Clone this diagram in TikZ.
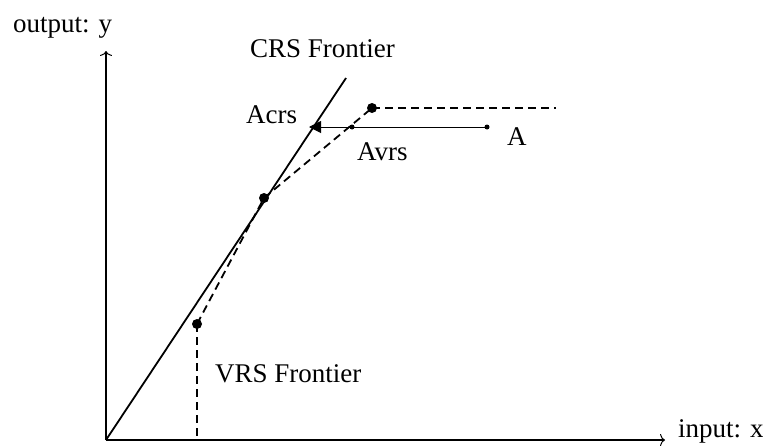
\documentclass[tikz,border=0pt]{standalone}
\usepackage{fontspec}
\setmainfont{Liberation Serif}
\usetikzlibrary{arrows.meta}
\begin{document}
\begin{tikzpicture}[x=1pt,y=-1pt,
  lbl/.style={font=\fontsize{27}{32}\selectfont, inner sep=0pt, anchor=base west},
  bigdot/.style={circle, fill=black, inner sep=0pt, minimum size=10pt},
  smalldot/.style={circle, fill=black, inner sep=0pt, minimum size=5pt},
  axis/.style={line width=1.4pt, -{To[length=5pt,width=12pt,line width=1pt]}},
  dsh/.style={line width=2.6pt, dash pattern=on 8pt off 5pt},
  dshthin/.style={line width=1.8pt, dash pattern=on 8pt off 5pt}]
\useasboundingbox (0,0) rectangle (763,447);
\coordinate (O) at (106,440);
\coordinate (Ytop) at (106,51);
\coordinate (Xend) at (665,440);
\coordinate (C1) at (346,78);
\coordinate (V1x) at (197,440);
\coordinate (Hend) at (556,108);
\draw[axis] (O) -- (Ytop);
\draw[axis] (O) -- (Xend);
\draw[line width=1.8pt] (O) -- (C1);
\node[bigdot] (P1) at (197,324) {};
\node[bigdot] (P2) at (264,198) {};
\node[bigdot] (P3) at (372,108) {};
\node[smalldot] (A) at (487,127) {};
\node[smalldot] (Avrs) at (352,127) {};
\coordinate (Acrs) at (309,127);
\draw[dsh] (P3.center) -- (Hend);
\draw[dsh] (P1.center) -- (V1x);
\draw[dshthin] (P1.center) -- (P2.center);
\draw[dshthin] (P2.center) -- (P3.center);
\draw[line width=1pt, -{Triangle[length=12pt,width=12pt]}] (A.center) -- (Acrs);
\node[lbl] (ly) at (13,32) {output: y};
\node[lbl] (lx) at (678,437) {input: x};
\node[lbl] (lcrs) at (250,57) {CRS Frontier};
\node[lbl] (lacrs) at (246,123) {Acrs};
\node[lbl] (lavrs) at (357,160) {Avrs};
\node[lbl] (la) at (507,145) {A};
\node[lbl] (lvrs) at (215,382) {VRS Frontier};
\end{tikzpicture}
\end{document}
